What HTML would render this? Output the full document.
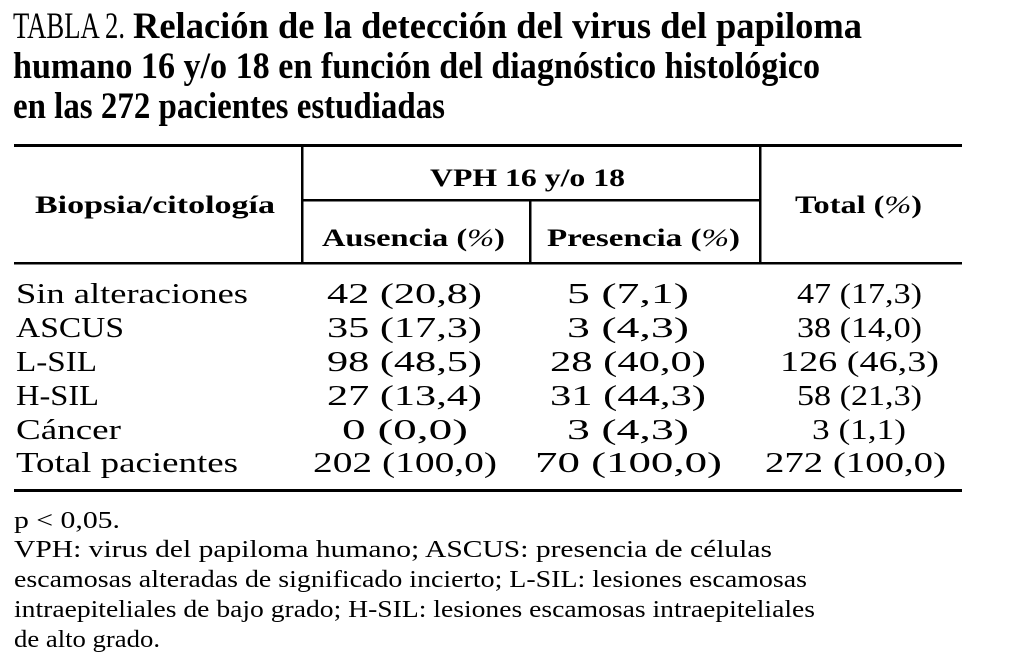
<!DOCTYPE html>
<html><head><meta charset="utf-8"><style>
html,body{margin:0;padding:0;background:#fff;}
svg{display:block}
text{font-family:"Liberation Serif",serif;fill:#000}
.t{font-size:37px;font-weight:bold}
.h{font-size:25px;font-weight:bold}
.b{font-size:29px}
.n{font-size:24px}
</style></head><body>
<svg width="1020" height="672" xmlns="http://www.w3.org/2000/svg">
<text class="t" x="13" y="38" textLength="112" lengthAdjust="spacingAndGlyphs" style="font-weight:normal">TABLA 2.</text>
<text class="t" x="133" y="38" textLength="729" lengthAdjust="spacingAndGlyphs">Relación de la detección del virus del papiloma</text>
<text class="t" x="13" y="78" textLength="807" lengthAdjust="spacingAndGlyphs">humano 16 y/o 18 en función del diagnóstico histológico</text>
<text class="t" x="13" y="118" textLength="432" lengthAdjust="spacingAndGlyphs">en las 272 pacientes estudiadas</text>

<rect x="14" y="144" width="948" height="3"/>
<rect x="301" y="147" width="2.5" height="116"/>
<rect x="759" y="147" width="2.5" height="116"/>
<rect x="303" y="199" width="456" height="2.5"/>
<rect x="529" y="201" width="2.5" height="62"/>
<rect x="14" y="262" width="948" height="2.5"/>
<rect x="14" y="489" width="948" height="3"/>

<text class="h" x="35" y="213" textLength="240" lengthAdjust="spacingAndGlyphs">Biopsia/citología</text>
<text class="h" x="430" y="186" textLength="195" lengthAdjust="spacingAndGlyphs">VPH 16 y/o 18</text>
<text class="h" x="795" y="213" textLength="127" lengthAdjust="spacingAndGlyphs">Total (<tspan font-style="italic" font-weight="normal">%</tspan>)</text>
<text class="h" x="322" y="246" textLength="183" lengthAdjust="spacingAndGlyphs">Ausencia (<tspan font-style="italic" font-weight="normal">%</tspan>)</text>
<text class="h" x="547" y="246" textLength="193" lengthAdjust="spacingAndGlyphs">Presencia (<tspan font-style="italic" font-weight="normal">%</tspan>)</text>

<text class="b" x="16" y="303" textLength="232" lengthAdjust="spacingAndGlyphs">Sin alteraciones</text>
<text class="b" x="16" y="337" textLength="108" lengthAdjust="spacingAndGlyphs">ASCUS</text>
<text class="b" x="16" y="371" textLength="81" lengthAdjust="spacingAndGlyphs">L-SIL</text>
<text class="b" x="16" y="405" textLength="83" lengthAdjust="spacingAndGlyphs">H-SIL</text>
<text class="b" x="16" y="439" textLength="105" lengthAdjust="spacingAndGlyphs">Cáncer</text>
<text class="b" x="16" y="472" textLength="222" lengthAdjust="spacingAndGlyphs">Total pacientes</text>

<text class="b" x="327" y="303" textLength="155" lengthAdjust="spacingAndGlyphs">42 (20,8)</text>
<text class="b" x="327" y="337" textLength="155" lengthAdjust="spacingAndGlyphs">35 (17,3)</text>
<text class="b" x="327" y="371" textLength="155" lengthAdjust="spacingAndGlyphs">98 (48,5)</text>
<text class="b" x="327" y="405" textLength="155" lengthAdjust="spacingAndGlyphs">27 (13,4)</text>
<text class="b" x="342" y="439" textLength="126" lengthAdjust="spacingAndGlyphs">0 (0,0)</text>
<text class="b" x="313" y="472" textLength="184" lengthAdjust="spacingAndGlyphs">202 (100,0)</text>

<text class="b" x="567" y="303" textLength="122" lengthAdjust="spacingAndGlyphs">5 (7,1)</text>
<text class="b" x="567" y="337" textLength="122" lengthAdjust="spacingAndGlyphs">3 (4,3)</text>
<text class="b" x="550" y="371" textLength="156" lengthAdjust="spacingAndGlyphs">28 (40,0)</text>
<text class="b" x="550" y="405" textLength="156" lengthAdjust="spacingAndGlyphs">31 (44,3)</text>
<text class="b" x="567" y="439" textLength="122" lengthAdjust="spacingAndGlyphs">3 (4,3)</text>
<text class="b" x="535" y="472" textLength="187" lengthAdjust="spacingAndGlyphs">70 (100,0)</text>

<text class="b" x="797" y="303" textLength="125" lengthAdjust="spacingAndGlyphs">47 (17,3)</text>
<text class="b" x="797" y="337" textLength="125" lengthAdjust="spacingAndGlyphs">38 (14,0)</text>
<text class="b" x="780" y="371" textLength="159" lengthAdjust="spacingAndGlyphs">126 (46,3)</text>
<text class="b" x="797" y="405" textLength="125" lengthAdjust="spacingAndGlyphs">58 (21,3)</text>
<text class="b" x="812" y="439" textLength="94" lengthAdjust="spacingAndGlyphs">3 (1,1)</text>
<text class="b" x="765" y="472" textLength="181" lengthAdjust="spacingAndGlyphs">272 (100,0)</text>

<text class="n" x="14" y="528" textLength="106" lengthAdjust="spacingAndGlyphs">p &lt; 0,05.</text>
<text class="n" x="14" y="557" textLength="758" lengthAdjust="spacingAndGlyphs">VPH: virus del papiloma humano; ASCUS: presencia de células</text>
<text class="n" x="14" y="587" textLength="793" lengthAdjust="spacingAndGlyphs">escamosas alteradas de significado incierto; L-SIL: lesiones escamosas</text>
<text class="n" x="14" y="617" textLength="801" lengthAdjust="spacingAndGlyphs">intraepiteliales de bajo grado; H-SIL: lesiones escamosas intraepiteliales</text>
<text class="n" x="14" y="647" textLength="146" lengthAdjust="spacingAndGlyphs">de alto grado.</text>
</svg>
</body></html>
